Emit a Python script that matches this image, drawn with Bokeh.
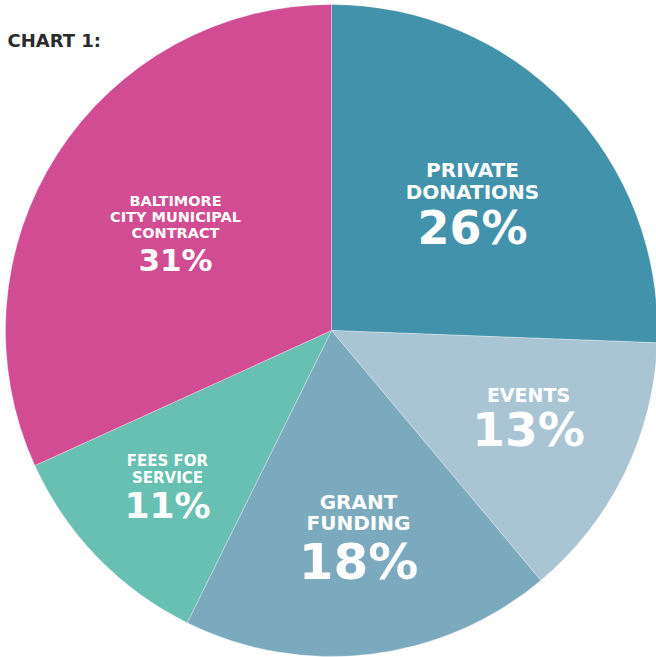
from math import pi
import numpy as np
from bokeh.plotting import figure
from bokeh.models import Range1d, ColumnDataSource
from bokeh.core.properties import value
from bokeh.embed import file_html
from bokeh.resources import INLINE

# ---- data ----
categories = ["Private Donations", "Events", "Grant Funding", "Fees for Service",
              "Baltimore City Municipal Contract"]
pct_labels = ["26%", "13%", "18%", "11%", "31%"]
slice_shares = [25.6, 13.3, 18.4, 10.9, 31.8]   # as drawn in the picture
name_lines = [["PRIVATE", "DONATIONS"], ["EVENTS"], ["GRANT", "FUNDING"],
              ["FEES FOR", "SERVICE"], ["BALTIMORE", "CITY MUNICIPAL", "CONTRACT"]]
colors = ["#4292ab", "#a9c5d4", "#7baabe", "#67c0b2", "#d14c93"]
title_text = "CHART 1:"

# ---- layout / style ----
W, H = 656, 657
cx, cy, R = 331, H - 330, 326
FONT = value("DejaVu Sans")
K = 0.38  # baseline correction as a fraction of font size
# per slice: x centre, baseline of first name line (px from top), line step,
# name size, pct baseline (px from top), pct size
label_layout = [
    (472, 177.3, 22.0, 20, 245, 46),
    (528, 401.7, 0.0, 19, 446.7, 47),
    (358, 509.3, 20.7, 20, 580, 50),
    (167, 466, 16.7, 15, 518.3, 36),
    (175, 205.7, 16.3, 14.5, 271, 31),
]

p = figure(width=W, height=H, x_range=Range1d(0, W), y_range=Range1d(0, H),
           output_backend="svg", toolbar_location=None, min_border=0,
           background_fill_color="white", border_fill_color="white")
p.axis.visible = False
p.grid.visible = False
p.outline_line_color = None

shares = np.array(slice_shares, dtype=float)
cum = np.concatenate([[0], np.cumsum(shares)]) / shares.sum() * 2 * pi
start = pi / 2 - cum[:-1]
end = pi / 2 - cum[1:]
src = ColumnDataSource(dict(x=[cx] * len(shares), y=[cy] * len(shares),
                            start=start, end=end, color=colors, cat=categories))
p.wedge(x="x", y="y", radius=R, start_angle="start", end_angle="end",
        direction="clock", fill_color="color", line_color="white",
        line_width=0.6, line_alpha=0.5, source=src)

tx, ty, tt, ts = [], [], [], []
for lines, pct, (lx, ly, step, nsize, py, psize) in zip(name_lines, pct_labels, label_layout):
    for i, ln in enumerate(lines):
        tx.append(lx); ty.append(H - (ly + i * step - K * nsize)); tt.append(ln); ts.append(f"{nsize}px")
    tx.append(lx); ty.append(H - (py - K * psize)); tt.append(pct); ts.append(f"{psize}px")

tsrc = ColumnDataSource(dict(x=tx, y=ty, text=tt, size=ts))
p.text(x="x", y="y", text="text", text_font_size="size", source=tsrc,
       text_color="white", text_font=FONT, text_font_style="bold",
       text_align="center", text_baseline="alphabetic")

p.text(x=[7], y=[H - (46.7 - K * 18)], text=[title_text], text_color="#2b2b2b",
       text_font=FONT, text_font_style="bold", text_font_size="18px",
       text_align="left", text_baseline="alphabetic")

open("out.html", "w").write(file_html(p, INLINE))
